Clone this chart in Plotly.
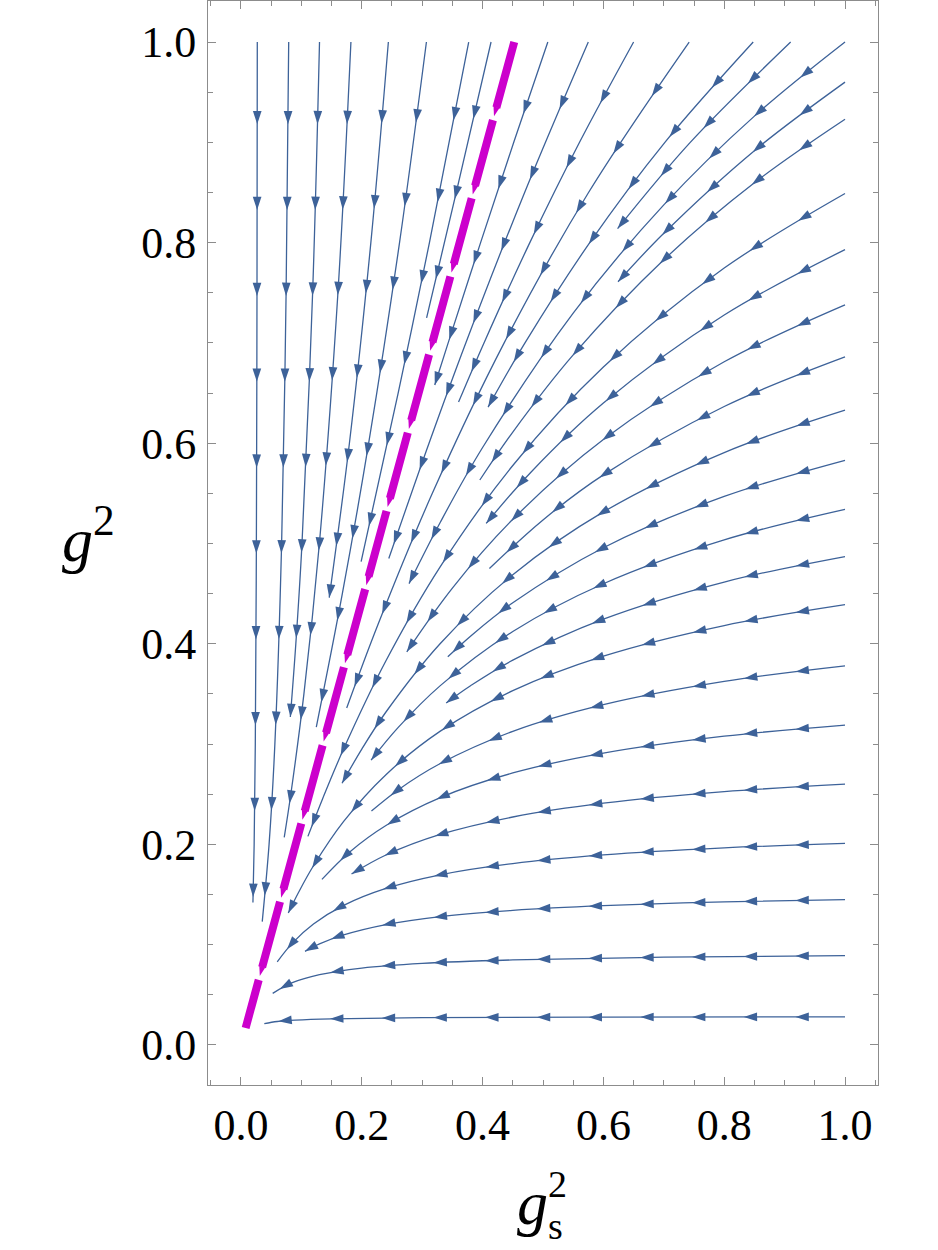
import math
import plotly.graph_objects as go

# ---------------- data ----------------
# Streamlines of the flow, (g_s^2, g^2) points from upstream to downstream end.
T1 = [(0.0270, 1.0), (0.0265, 0.75), (0.0255, 0.5), (0.0237, 0.3), (0.0218, 0.2), (0.0198, 0.142)]
T2 = [(0.0790, 1.0), (0.0747, 0.75), (0.0673, 0.5), (0.0561, 0.3), (0.0465, 0.2), (0.0352, 0.123)]
T3 = [(0.130, 1.0), (0.1186, 0.75), (0.1010, 0.5), (0.0908, 0.4), (0.0817, 0.327)]
T4 = [(0.182, 1.0), (0.1605, 0.75), (0.1298, 0.5), (0.1042, 0.35), (0.0825, 0.25), (0.0716, 0.207)]
T5 = [(0.244, 1.0), (0.2150, 0.8), (0.1795, 0.6), (0.1461, 0.446)]
T6 = [(0.307, 1.0), (0.2625, 0.8), (0.2114, 0.6), (0.1678, 0.45), (0.1247, 0.317)]
T7 = [(0.377, 1.0), (0.3120, 0.8), (0.2602, 0.65), (0.1989, 0.482)]
T8 = [(0.414, 1.0), (0.3564, 0.85), (0.3073, 0.725)]
T9 = [(0.508, 1.0), (0.4516, 0.9), (0.3967, 0.8), (0.3430, 0.7), (0.3208, 0.658)]
T10 = [(0.575, 1.0), (0.4696, 0.85), (0.3722, 0.7), (0.3113, 0.6), (0.2447, 0.485)]
T11 = [(0.650, 1.0), (0.5605, 0.9), (0.4782, 0.8), (0.4023, 0.7), (0.3602, 0.641)]
T12 = [(0.742, 1.0), (0.5754, 0.85), (0.4357, 0.7), (0.3168, 0.55), (0.2273, 0.42), (0.1750, 0.336)]
T13 = [(0.848, 1.0), (0.7018, 0.9), (0.5774, 0.8), (0.4702, 0.7), (0.4091, 0.636)]
T14 = [(0.910, 1.0), (0.7438, 0.9), (0.6235, 0.814)]

R1 = [(1.0, 1.0), (0.85, 0.9261), (0.70, 0.8376), (0.55, 0.7298), (0.40, 0.5957), (0.33, 0.5212), (0.2782, 0.460)]
R2 = [(1.0, 0.960), (0.85, 0.8917), (0.70, 0.8093), (0.6242, 0.761)]
R3 = [(1.0, 0.923), (0.85, 0.8597), (0.70, 0.7829), (0.55, 0.6880), (0.45, 0.6111), (0.3954, 0.5633)]
R4 = [(1.0, 0.849), (0.80, 0.7746), (0.60, 0.6759), (0.45, 0.5778), (0.33, 0.4770), (0.24, 0.3831),
      (0.17, 0.2953), (0.135, 0.2453), (0.1108, 0.208)]
R5 = [(1.0, 0.793), (0.80, 0.7278), (0.60, 0.6400), (0.48, 0.5711), (0.4059, 0.520)]
R6 = [(1.0, 0.738), (0.80, 0.6812), (0.60, 0.6037), (0.45, 0.5241), (0.35, 0.4556), (0.2745, 0.392)]
R7 = [(1.0, 0.686), (0.80, 0.6366), (0.60, 0.5684), (0.50, 0.5235), (0.4113, 0.475)]
R8 = [(1.0, 0.633), (0.80, 0.5907), (0.60, 0.5315), (0.45, 0.4689), (0.33, 0.4003), (0.24, 0.3320),
      (0.20, 0.2950), (0.1673, 0.261)]
R9 = [(1.0, 0.583), (0.80, 0.5469), (0.60, 0.4958), (0.45, 0.4409), (0.38, 0.4076), (0.3424, 0.387)]
R10 = [(1.0, 0.534), (0.80, 0.5036), (0.60, 0.4599), (0.45, 0.4123), (0.33, 0.3583), (0.26, 0.3164), (0.2154, 0.284)]
R11 = [(1.0, 0.487), (0.80, 0.4616), (0.60, 0.4246), (0.45, 0.3837), (0.38, 0.3582), (0.3397, 0.341)]
R12 = [(1.0, 0.439), (0.80, 0.4182), (0.60, 0.3877), (0.45, 0.3533), (0.33, 0.3129), (0.24, 0.2695),
       (0.17, 0.2229), (0.12, 0.1787), (0.095, 0.1518), (0.0783, 0.1315)]
R13 = [(1.0, 0.378), (0.80, 0.3625), (0.60, 0.3393), (0.45, 0.3127), (0.33, 0.2806), (0.26, 0.2543), (0.216, 0.2332)]
R14 = [(1.0, 0.319), (0.80, 0.3079), (0.60, 0.2910), (0.45, 0.2712), (0.33, 0.2467), (0.24, 0.2189),
       (0.18, 0.1925), (0.134, 0.1651)]
R15 = [(1.0, 0.260), (0.80, 0.2526), (0.60, 0.2411), (0.45, 0.2273), (0.33, 0.2099), (0.24, 0.1894), (0.183, 0.1705)]
R16 = [(1.0, 0.201), (0.80, 0.1965), (0.60, 0.1895), (0.45, 0.1809), (0.33, 0.1697), (0.24, 0.1561),
       (0.17, 0.1392), (0.12, 0.1206), (0.085, 0.1016), (0.060, 0.0829)]
R17 = [(1.0, 0.145), (0.80, 0.1427), (0.60, 0.1389), (0.45, 0.1342), (0.33, 0.1280), (0.24, 0.1201),
       (0.17, 0.1098), (0.13, 0.1008), (0.106, 0.0934)]
R18 = [(1.0, 0.089), (0.70, 0.0875), (0.45, 0.0848), (0.30, 0.0814), (0.20, 0.0767), (0.13, 0.0701),
       (0.085, 0.0621), (0.0525, 0.0515)]
R19 = [(1.0, 0.028), (0.60, 0.0278), (0.30, 0.0272), (0.15, 0.0261), (0.09, 0.0248), (0.06, 0.0234), (0.0386, 0.0213)]

STREAMLINES = [T1, T2, T3, T4, T5, T6, T7, T8, T9, T10, T11, T12, T13, T14,
               R1, R2, R3, R4, R5, R6, R7, R8, R9, R10, R11, R12, R13, R14, R15, R16, R17, R18, R19]

# magenta fixed-ratio line (dashed, arrow-tipped dashes)
FIXED_GS = [0.4524, 0.0077]
FIXED_G = [1.0, 0.017]

X_TICKS = [0.0, 0.2, 0.4, 0.6, 0.8, 1.0]
X_TICK_TEXT = ["0.0", "0.2", "0.4", "0.6", "0.8", "1.0"]
Y_TICKS = [0.0, 0.2, 0.4, 0.6, 0.8, 1.0]
Y_TICK_TEXT = ["0.0", "0.2", "0.4", "0.6", "0.8", "1.0"]

# ---------------- layout constants ----------------
W, H = 938, 1250
ML, MR, MT, MB = 208, 60, 1, 165
PW, PH = W - ML - MR, H - MT - MB
X_RANGE = (-0.0546, 1.0546)
Y_RANGE = (-0.0399, 1.0409)

BLUE = "rgb(61,98,153)"
MAGENTA = "rgb(204,0,204)"
FRAME = "#8c8c8c"
SERIF = "Liberation Serif, Times New Roman, Tinos, Times, serif"
ARROW_START = 0.082   # arc length (data units) to first arrow tip
ARROW_STEP = 0.0856   # arc length between arrows
DASH_BAR, DASH_PERIOD, DASH_TIP = 68, 81, 77   # magenta dash pattern, px along the line


def to_px(x, y):
    return ((x - X_RANGE[0]) / (X_RANGE[1] - X_RANGE[0]) * PW,
            (Y_RANGE[1] - y) / (Y_RANGE[1] - Y_RANGE[0]) * PH)


def to_data(px, py):
    return (X_RANGE[0] + px / PW * (X_RANGE[1] - X_RANGE[0]),
            Y_RANGE[1] - py / PH * (Y_RANGE[1] - Y_RANGE[0]))


def tangent(p0, p1, p2, s=1.0):
    # same construction plotly.js uses for line.shape = 'spline'
    d1x, d1y = p0[0] - p1[0], p0[1] - p1[1]
    d2x, d2y = p2[0] - p1[0], p2[1] - p1[1]
    d1a = (d1x * d1x + d1y * d1y) ** 0.25
    d2a = (d2x * d2x + d2y * d2y) ** 0.25
    nx = (d2a * d2a * d1x - d1a * d1a * d2x) * s
    ny = (d2a * d2a * d1y - d1a * d1a * d2y) * s
    den1 = 3 * d2a * (d1a + d2a)
    den2 = 3 * d1a * (d1a + d2a)
    return ((p1[0] + nx / den1, p1[1] + ny / den1), (p1[0] - nx / den2, p1[1] - ny / den2))


def spline_samples(pts, n=40):
    if len(pts) < 3:
        return [(pts[0][0] + (pts[-1][0] - pts[0][0]) * t / n, pts[0][1] + (pts[-1][1] - pts[0][1]) * t / n)
                for t in range(n + 1)]
    tans = [tangent(pts[i - 1], pts[i], pts[i + 1]) for i in range(1, len(pts) - 1)]
    segs = [("Q", pts[0], tans[0][0], pts[1])]
    for i in range(2, len(pts) - 1):
        segs.append(("C", pts[i - 1], tans[i - 2][1], tans[i - 1][0], pts[i]))
    segs.append(("Q", pts[-2], tans[-1][1], pts[-1]))
    out = [pts[0]]
    for sg in segs:
        for k in range(1, n + 1):
            t = k / n
            u = 1 - t
            if sg[0] == "Q":
                a, b, c = sg[1], sg[2], sg[3]
                out.append((u * u * a[0] + 2 * u * t * b[0] + t * t * c[0],
                            u * u * a[1] + 2 * u * t * b[1] + t * t * c[1]))
            else:
                a, b, c, d = sg[1], sg[2], sg[3], sg[4]
                out.append((u ** 3 * a[0] + 3 * u * u * t * b[0] + 3 * u * t * t * c[0] + t ** 3 * d[0],
                            u ** 3 * a[1] + 3 * u * u * t * b[1] + 3 * u * t * t * c[1] + t ** 3 * d[1]))
    return out


def arrows_along(line):
    pix = [to_px(x, y) for x, y in line]
    dense = spline_samples(pix)
    dat = [to_data(px, py) for px, py in dense]
    cum = [0.0]
    for i in range(1, len(dat)):
        cum.append(cum[-1] + math.hypot(dat[i][0] - dat[i - 1][0], dat[i][1] - dat[i - 1][1]))
    total = cum[-1]
    targets = []
    s = ARROW_START
    while s < total - 0.004:
        targets.append(s)
        s += ARROW_STEP
    if targets and total - targets[-1] > 0.045:
        targets.append(total)
    xs, ys, angs = [], [], []
    j = 1
    for s in targets:
        while j < len(cum) - 1 and cum[j] < s:
            j += 1
        f = (s - cum[j - 1]) / (cum[j] - cum[j - 1]) if cum[j] > cum[j - 1] else 0
        px = dense[j - 1][0] + f * (dense[j][0] - dense[j - 1][0])
        py = dense[j - 1][1] + f * (dense[j][1] - dense[j - 1][1])
        dx = dense[j][0] - dense[j - 1][0]
        dy = dense[j][1] - dense[j - 1][1]
        x, y = to_data(px, py)
        xs.append(x)
        ys.append(y)
        angs.append(math.degrees(math.atan2(dx, -dy)))
    return xs, ys, angs


def dash_tips():
    p0 = to_px(FIXED_GS[0], FIXED_G[0])
    p1 = to_px(FIXED_GS[1], FIXED_G[1])
    dx, dy = p1[0] - p0[0], p1[1] - p0[1]
    length = math.hypot(dx, dy)
    xs, ys = [], []
    d = DASH_TIP
    while d <= length:
        x, y = to_data(p0[0] + dx * d / length, p0[1] + dy * d / length)
        xs.append(x)
        ys.append(y)
        d += DASH_PERIOD
    return xs, ys, math.degrees(math.atan2(dx, -dy))


fig = go.Figure()

ax_x, ax_y, ax_a = [], [], []
for line in STREAMLINES:
    fig.add_trace(go.Scatter(
        x=[p[0] for p in line], y=[p[1] for p in line], mode="lines",
        line=dict(color=BLUE, width=1.3, shape="spline"), hoverinfo="skip", showlegend=False))
    xs, ys, angs = arrows_along(line)
    ax_x += xs
    ax_y += ys
    ax_a += angs

fig.add_trace(go.Scatter(
    x=ax_x, y=ax_y, mode="markers",
    marker=dict(symbol="arrow", size=14, angle=ax_a, color=BLUE, line=dict(width=0)),
    hoverinfo="skip", showlegend=False))

fig.add_trace(go.Scatter(
    x=FIXED_GS, y=FIXED_G, mode="lines",
    line=dict(color=MAGENTA, width=8, dash=f"{DASH_BAR}px,{DASH_PERIOD - DASH_BAR}px"),
    hoverinfo="skip", showlegend=False))
tx, ty, tang = dash_tips()
fig.add_trace(go.Scatter(
    x=tx, y=ty, mode="markers",
    marker=dict(symbol="arrow", size=10, angle=tang, color=MAGENTA, line=dict(width=0)),
    hoverinfo="skip", showlegend=False))

tickfont = dict(family=SERIF, size=44, color="black")
axis_common = dict(
    showline=True, linecolor=FRAME, linewidth=1, mirror="allticks",
    ticks="inside", ticklen=8, tickwidth=1, tickcolor=FRAME,
    showgrid=False, zeroline=False, automargin=False, tickfont=tickfont,
)
fig.update_xaxes(range=list(X_RANGE), tickmode="array", tickvals=X_TICKS, ticktext=X_TICK_TEXT,
                 minor=dict(ticks="inside", ticklen=5, tickcolor=FRAME, tickmode="linear", tick0=0, dtick=0.05,
                            showgrid=False),
                 ticklabelstandoff=1, **axis_common)
fig.update_yaxes(range=list(Y_RANGE), tickmode="array", tickvals=Y_TICKS, ticktext=Y_TICK_TEXT,
                 minor=dict(ticks="inside", ticklen=5, tickcolor=FRAME, tickmode="linear", tick0=0, dtick=0.05,
                            showgrid=False),
                 ticklabelstandoff=2, **axis_common)

title_font = dict(family=SERIF, size=62, color="black")
small_font = dict(family=SERIF, size=38, color="black")


def px2paper(px, py):
    return (px - ML) / PW, (H - MB - py) / PH


annos = []
xp, yp = px2paper(88, 535)
annos.append(dict(text="<i>g</i><sup>2</sup>", x=xp, y=yp, font=title_font))
xp, yp = px2paper(532, 1203)
annos.append(dict(text="<i>g</i>", x=xp, y=yp, font=title_font))
xp, yp = px2paper(557, 1184)
annos.append(dict(text="2", x=xp, y=yp, font=small_font))
xp, yp = px2paper(555, 1226)
annos.append(dict(text="s", x=xp, y=yp, font=small_font))
for a in annos:
    a.update(xref="paper", yref="paper", showarrow=False, xanchor="center", yanchor="middle")

fig.update_layout(
    template="none", width=W, height=H,
    margin=dict(l=ML, r=MR, t=MT, b=MB, pad=0),
    paper_bgcolor="white", plot_bgcolor="white",
    showlegend=False, annotations=annos,
)

fig.write_html("out.html")
